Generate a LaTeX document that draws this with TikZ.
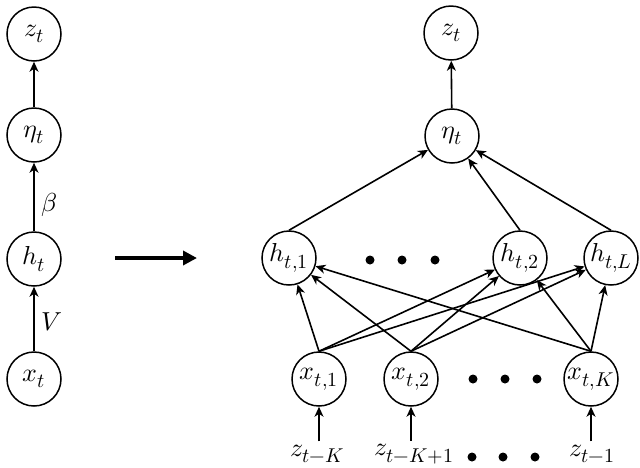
\documentclass[tikz,border=0pt]{standalone}
\usepackage{unicode-math}
\setmathfont{Latin Modern Math}
\DeclareMathSizes{26}{26}{20}{16}
\usetikzlibrary{arrows.meta}
\begin{document}
\begin{tikzpicture}[x=1pt,y=-1pt,
  nd/.style={circle,draw,line width=1.5pt,minimum size=54pt,inner sep=0pt,font=\fontsize{26}{31}\selectfont},
  ed/.style={line width=1.6pt,-{Stealth[length=10pt,width=9pt,inset=3pt]}},
  dotc/.style={circle,fill,inner sep=0pt,minimum size=9pt},
  lbl/.style={font=\fontsize{26}{31}\selectfont}]
\useasboundingbox (0,0) rectangle (640,467);
% left column
\node[nd] (lz) at (34,34) {$z_t$};
\node[nd] (le) at (34,135) {$\eta_t$};
\node[nd] (lh) at (34,259) {$h_t$};
\node[nd] (lx) at (34,379) {$x_t$};
\draw[ed] (le) -- (lz);
\draw[ed] (lh) -- node[lbl,pos=0.39,right=3pt] {$\beta$} (le);
\draw[ed] (lx) -- node[lbl,pos=0.45,right=3pt] {$V$} (lh);
% big arrow
\coordinate (a0) at (115,258);
\coordinate (a1) at (197,258);
\draw[line width=4.5pt,-{Triangle[length=14pt,width=14pt]}] (a0) -- (a1);
% right network
\node[nd] (rz) at (451,33) {$z_t$};
\node[nd] (re) at (452,136) {$\eta_t$};
\node[nd] (h1) at (289,258) {$h_{t,1}$};
\node[nd] (h2) at (520,258) {$h_{t,2}$};
\node[nd] (hL) at (611,258) {$h_{t,L}$};
\node[nd] (x1) at (319,379) {$x_{t,1}$};
\node[nd] (x2) at (411,379) {$x_{t,2}$};
\node[nd] (xK) at (591,379) {$x_{t,K}$};
\node[dotc] (d1) at (370,260) {};
\node[dotc] (d2) at (402,260) {};
\node[dotc] (d3) at (435,260) {};
\node[dotc] (d4) at (473,379) {};
\node[dotc] (d5) at (505,379) {};
\node[dotc] (d6) at (537,379) {};
\node[dotc] (d7) at (472,457) {};
\node[dotc] (d8) at (503,457) {};
\node[dotc] (d9) at (535,457) {};
\node[lbl] (zK) at (317,454) {$z_{t-K}$};
\node[lbl] (zK1) at (414,454) {$z_{t-K+1}$};
\node[lbl] (z1) at (592,454) {$z_{t-1}$};
\draw[ed] (re) -- (rz);
\draw[ed] (h1.north) -- (re);
\draw[ed] (h2.north) -- (re);
\draw[ed] (hL.north) -- (re);
\foreach \x in {x1,x2,xK}{
  \foreach \h in {h1,h2,hL}{
    \draw[ed] (\x.north) -- (\h);
  }
}
\draw[ed] (zK.north -| x1) -- (x1);
\draw[ed] (zK1.north -| x2) -- (x2);
\draw[ed] (z1.north -| xK) -- (xK);
\end{tikzpicture}
\end{document}
